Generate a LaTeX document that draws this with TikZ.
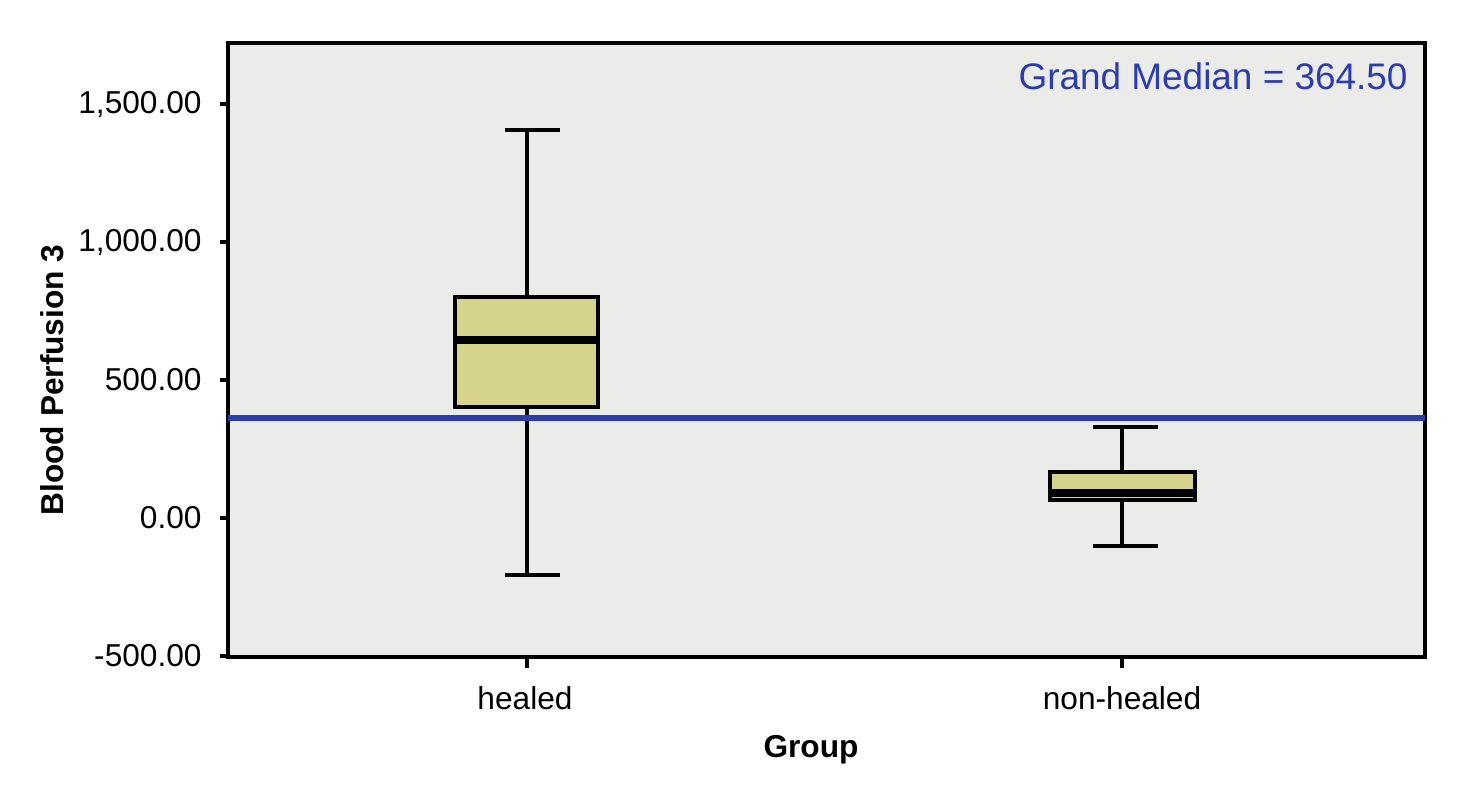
\documentclass[tikz,border=0pt]{standalone}
\usepackage{fontspec}
\setmainfont{Liberation Sans}
\definecolor{plotbg}{HTML}{EBEBEA}
\definecolor{boxfill}{HTML}{D4D48C}
\definecolor{medblue}{HTML}{2A3CB0}
\tikzset{
  boxbody/.style={draw=black, line width=1pt, fill=boxfill},
  whisker/.style={black, line width=1pt},
  ticklab/.style={anchor=east, font=\fontsize{9}{10}\selectfont},
}
\begin{document}
\begin{tikzpicture}[x=0.01cm, y=-0.01cm]
			\useasboundingbox (0, 0) rectangle (1474, 800);

			% plot area
			\draw [line width=1.2pt, fill=plotbg] (228, 43) rectangle (1425, 657);

			% y axis ticks and labels
			\foreach \py/\lab in {104/{1,500.00}, 242/{1,000.00}, 380/500.00, 518/0.00, 656/-500.00}
			{
				\draw [line width=1pt] (220, \py) -- (228, \py);
				\node [ticklab] at (214, \py) {\lab};
			}
			\node [rotate=90, font=\bfseries\fontsize{9}{10}\selectfont] (ylab) at (52, 380) {Blood Perfusion 3};

			% healed
			\draw [whisker] (527, 130) -- (527, 297);
			\draw [whisker] (527, 407) -- (527, 575);
			\draw [whisker] (505, 130) -- (560, 130);
			\draw [whisker] (505, 575) -- (560, 575);
			\draw [boxbody] (455, 297) rectangle (598, 407);
			\draw [line width=2.2pt] (455, 340) -- (598, 340);

			% non-healed
			\draw [whisker] (1122, 427) -- (1122, 472);
			\draw [whisker] (1122, 500) -- (1122, 546);
			\draw [whisker] (1093, 427) -- (1158, 427);
			\draw [whisker] (1093, 546) -- (1158, 546);
			\draw [boxbody] (1050, 472) rectangle (1195, 500);
			\draw [line width=2.2pt] (1050, 493) -- (1195, 493);

			% grand median
			\draw [medblue, line width=1.6pt] (228, 418) -- (1425, 418);
			\node [anchor=east, medblue, font=\fontsize{10.5}{12}\selectfont] (gm) at (1420, 76) {Grand Median = 364.50};

			% x axis
			\draw [line width=1pt] (527, 657) -- (527, 668);
			\draw [line width=1pt] (1122, 657) -- (1122, 668);
			\node [font=\fontsize{9}{10}\selectfont] (healed) at (525, 698) {healed};
			\node [font=\fontsize{9}{10}\selectfont] (nonhealed) at (1122, 698) {non-healed};
			\node [font=\bfseries\fontsize{9}{10}\selectfont] (xlab) at (811, 750) {Group};
		\end{tikzpicture}
\end{document}
